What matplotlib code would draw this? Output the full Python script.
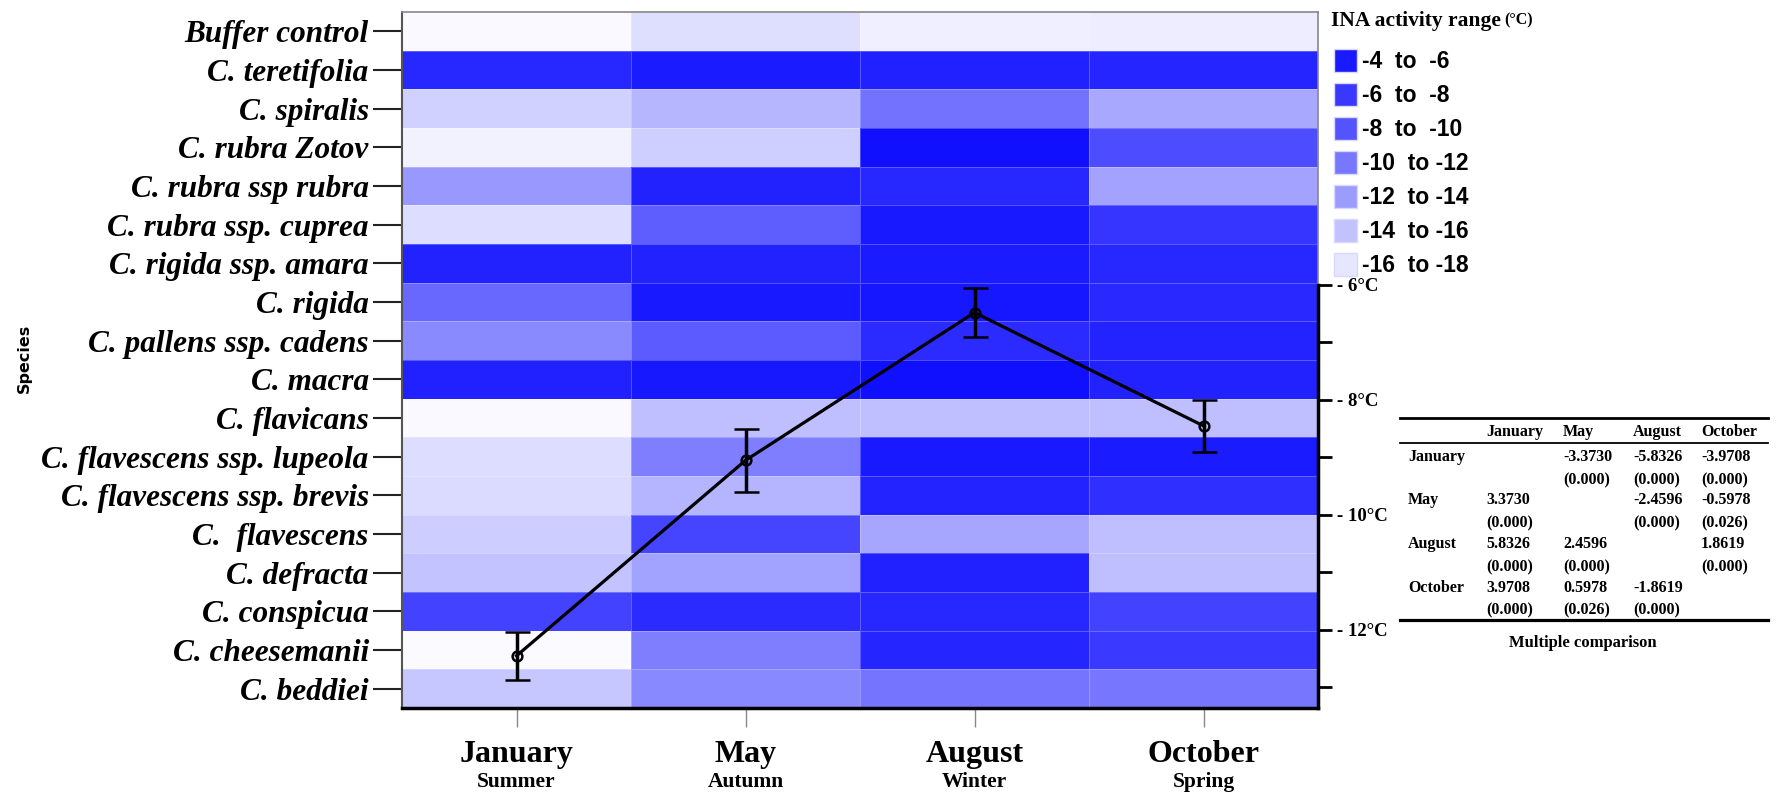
import numpy as np
import matplotlib
matplotlib.use("Agg")
import matplotlib.pyplot as plt
from matplotlib.colors import LinearSegmentedColormap
from matplotlib.patches import Rectangle
from matplotlib.transforms import blended_transform_factory

W, H = 1776, 799
SERIF = "Liberation Serif"
SANS = "Liberation Sans"

species = ["Buffer control", "C. teretifolia", "C. spiralis", "C. rubra Zotov",
           "C. rubra ssp rubra", "C. rubra ssp. cuprea", "C. rigida ssp. amara",
           "C. rigida", "C. pallens ssp. cadens", "C. macra", "C. flavicans",
           "C. flavescens ssp. lupeola", "C. flavescens ssp. brevis", "C.  flavescens",
           "C. defracta", "C. conspicua", "C. cheesemanii", "C. beddiei"]
months = ["January", "May", "August", "October"]
seasons = ["Summer", "Autumn", "Winter", "Spring"]

# INA activity (deg C) per species, one list per month
ina_jan = [-17.9, -5.4, -15.5, -17.5, -12.1, -16.2, -5.1, -9.3, -11.3, -5.0,
           -17.9, -16.2, -16.1, -15.3, -14.7, -7.1, -18.0, -14.9]
ina_may = [-16.3, -4.7, -13.9, -15.4, -5.1, -8.7, -5.1, -4.6, -8.5, -4.5,
           -14.5, -10.6, -13.8, -7.2, -12.7, -5.6, -10.6, -11.2]
ina_aug = [-17.3, -5.0, -9.9, -4.0, -5.4, -4.6, -4.7, -4.4, -5.6, -4.0,
           -14.5, -4.6, -5.2, -13.0, -5.0, -5.4, -5.3, -10.0]
ina_oct = [-17.2, -5.3, -13.1, -7.7, -12.8, -6.2, -5.4, -5.5, -5.2, -5.1,
           -14.5, -4.7, -5.9, -14.5, -14.5, -7.0, -6.5, -10.1]

# mean freezing temperature (right axis, deg C below zero) with error
mean_temp = [12.45, 9.05, 6.48, 8.45]
temp_err = [0.42, 0.55, 0.42, 0.45]

legend_labels = ["-4  to  -6", "-6  to  -8", "-8  to  -10", "-10  to -12",
                 "-12  to -14", "-14  to -16", "-16  to -18"]
legend_colors = ["#1a1aff", "#3838ff", "#5454ff", "#7777ff",
                 "#9c9cff", "#c2c2ff", "#e6e6ff"]

# multiple comparison table
mc_diff = [[None, -3.3730, -5.8326, -3.9708],
           [3.3730, None, -2.4596, -0.5978],
           [5.8326, 2.4596, None, 1.8619],
           [3.9708, 0.5978, -1.8619, None]]
mc_p = [[None, 0.000, 0.000, 0.000],
        [0.000, None, 0.000, 0.026],
        [0.000, 0.000, None, 0.000],
        [0.000, 0.026, 0.000, None]]

fig = plt.figure(figsize=(W / 100, H / 100), dpi=100)
ax = fig.add_axes([402 / W, 1 - 708 / H, (1318 - 402) / W, (708 - 12) / H])

grid = np.column_stack([ina_jan, ina_may, ina_aug, ina_oct])
cmap = LinearSegmentedColormap.from_list("ina", ["#fafaff", "#1010ff"])
ax.pcolormesh(np.arange(len(months) + 1) - 0.5, np.arange(len(species) + 1) - 0.5,
              grid, cmap=cmap, vmin=-18, vmax=-4,
              edgecolors=(1, 1, 1, 0.25), linewidth=0.6)
ax.set_xlim(-0.5, len(months) - 0.5)
ax.set_ylim(len(species) - 0.5, -0.5)

ax.set_yticks(range(len(species)))
ax.set_yticklabels(species, fontfamily=SERIF, fontstyle="italic",
                   fontweight="bold", fontsize=22.5)
ax.tick_params(axis="y", length=21, width=1.5, pad=3, color="#222222")
ax.set_xticks(range(len(months)))
ax.set_xticklabels(months, fontfamily=SERIF, fontweight="bold", fontsize=23)
ax.tick_params(axis="x", length=14, width=1, pad=9, color="#888888")

for side, col, lw in [("top", "#888888", 1.2), ("left", "#555555", 1.5),
                      ("bottom", "black", 2.5), ("right", "#888888", 1.2)]:
    ax.spines[side].set_color(col)
    ax.spines[side].set_linewidth(lw)

trans = blended_transform_factory(ax.transData, ax.transAxes)
for i, s in enumerate(seasons):
    ax.text(i, -0.107, s, transform=trans, ha="center", va="center",
            fontfamily=SERIF, fontweight="bold", fontsize=15.5)

fig.text(24 / W, 1 - 358 / H, "Species", rotation=90, ha="center", va="center",
         fontfamily="DejaVu Sans", fontweight="bold", fontsize=11.5)

# line with error bars on a second axis
ax2 = ax.twinx()
ax2.errorbar(range(len(months)), mean_temp, yerr=temp_err, color="black",
             lw=2.3, marker="o", mfc="none", ms=7, mew=1.8,
             capsize=9, capthick=2.5, elinewidth=2.5)
ax2.set_ylim(13.357, 1.252)
for side in ["top", "left", "bottom"]:
    ax2.spines[side].set_visible(False)
ax2.spines["right"].set_bounds(6, 13.357)
ax2.spines["right"].set_linewidth(2.5)
ax2.set_yticks([6, 8, 10, 12])
ax2.set_yticklabels([f"- {t}°C" for t in [6, 8, 10, 12]],
                    fontfamily=SERIF, fontweight="bold", fontsize=13.5)
ax2.set_yticks([7, 9, 11, 13], minor=True)
ax2.tick_params(axis="y", which="both", direction="out", length=10, width=2, pad=4)

# overlay in pixel coordinates for legend and table
ov = fig.add_axes([0, 0, 1, 1], zorder=5)
ov.set_xlim(0, W)
ov.set_ylim(H, 0)
ov.axis("off")
ov.patch.set_alpha(0)

ov.text(1331, 21, "INA activity range", ha="left", va="center",
        fontfamily=SERIF, fontweight="bold", fontsize=15.5)
ov.text(1504, 20, "(°C)", ha="left", va="center",
        fontfamily=SERIF, fontweight="bold", fontsize=11.5)
for i, (lab, col) in enumerate(zip(legend_labels, legend_colors)):
    yc = 60 + 34 * i
    ov.add_patch(Rectangle((1334, yc - 11.5), 23, 23, facecolor=col,
                           edgecolor="#d8d8ff", lw=1))
    ov.text(1362, yc + 1, lab, ha="left", va="center",
            fontfamily=SANS, fontweight="bold", fontsize=16.5)

# table
col_x = [1486, 1563, 1633, 1701]
row_y = [(457, 480), (500, 523), (544, 567), (588, 610)]
tfont = dict(fontfamily=SERIF, fontweight="bold", fontsize=11.5, va="center", ha="left")
ov.plot([1400, 1768], [418, 418], color="black", lw=2)
ov.plot([1400, 1768], [443, 443], color="black", lw=1.3)
ov.plot([1400, 1768], [620, 620], color="black", lw=2.3)
for j, m in enumerate(months):
    ov.text(col_x[j], 432, m, **tfont)
for i, m in enumerate(months):
    ov.text(1408, row_y[i][0], m, **tfont)
    for j in range(len(months)):
        if mc_diff[i][j] is None:
            continue
        ov.text(col_x[j], row_y[i][0], f"{mc_diff[i][j]:.4f}", **tfont)
        ov.text(col_x[j], row_y[i][1], f"({mc_p[i][j]:.3f})", **tfont)
ov.text(1583, 643, "Multiple comparison", ha="center", va="center",
        fontfamily=SERIF, fontweight="bold", fontsize=12)

fig.savefig("out.png", dpi=100)
